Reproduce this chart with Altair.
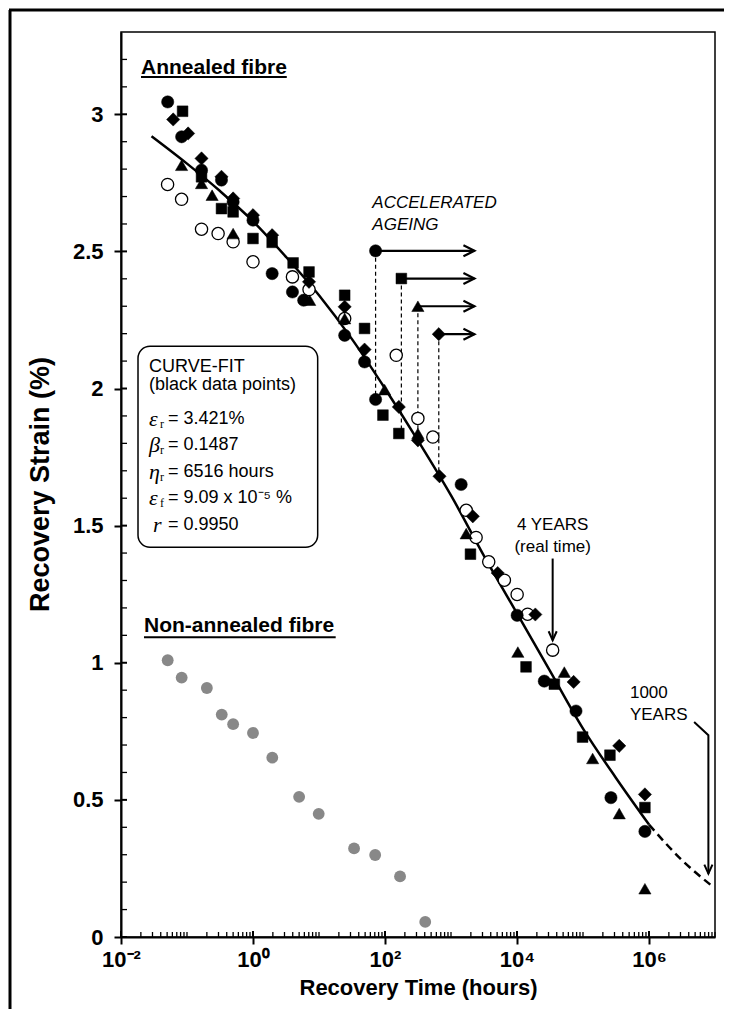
import altair as alt
import pandas as pd

# ---------------- data ----------------
# Non-annealed fibre (grey circles)
gray_t = [0.051, 0.083, 0.2, 0.336, 0.5, 1.0, 1.96, 5.0, 9.9, 34, 71, 169, 407]
gray_v = [1.009, 0.946, 0.908, 0.811, 0.776, 0.744, 0.654, 0.511, 0.449, 0.323, 0.299, 0.221, 0.055]

# Annealed fibre - filled circles
circ_t = [0.051, 0.083, 0.166, 0.333, 0.5, 1.0, 1.95, 3.96, 5.86, 24.5, 49, 72, 1425, 10050, 25900, 78300, 265000, 867000]
circ_v = [3.045, 2.918, 2.796, 2.760, 2.68, 2.614, 2.419, 2.352, 2.322, 2.194, 2.097, 1.960, 1.650, 1.173, 0.933, 0.824, 0.508, 0.385]
# squares
sq_t = [0.0857, 0.166, 0.333, 0.5, 1.0, 1.95, 4.05, 7.06, 24.5, 49, 93, 162, 1972, 13700, 36800, 98600, 256000, 867000]
sq_v = [3.011, 2.772, 2.656, 2.644, 2.547, 2.533, 2.458, 2.425, 2.340, 2.219, 1.903, 1.836, 1.396, 0.985, 0.922, 0.729, 0.663, 0.472]
# triangles
tri_t = [0.0828, 0.166, 0.24, 0.5, 7.23, 24.5, 98.6, 315, 1700, 10300, 52100, 140000, 354000, 867000]
tri_v = [2.814, 2.748, 2.705, 2.565, 2.322, 2.255, 1.996, 1.836, 1.471, 1.039, 0.966, 0.651, 0.450, 0.176]
# diamonds
dia_t = [0.0618, 0.104, 0.166, 0.333, 0.5, 1.0, 1.95, 7.06, 24.5, 49, 162, 315, 670, 2140, 5100, 18960, 72100, 354000, 867000]
dia_v = [2.981, 2.93, 2.839, 2.772, 2.693, 2.632, 2.559, 2.389, 2.298, 2.142, 1.933, 1.811, 1.680, 1.534, 1.327, 1.176, 0.930, 0.697, 0.520]
# open circles
open_t = [0.0508, 0.0828, 0.166, 0.296, 0.5, 1.0, 3.96, 7.06, 24.5, 148, 315, 531, 1700, 2400, 3730, 6440, 10050, 14500, 34700]
open_v = [2.744, 2.690, 2.581, 2.565, 2.535, 2.462, 2.407, 2.361, 2.255, 2.121, 1.891, 1.823, 1.556, 1.457, 1.368, 1.301, 1.249, 1.177, 1.046]

# accelerated ageing points (circle, square, triangle, diamond)
acc_t = [72, 177, 315, 653]
acc_v = [2.502, 2.401, 2.300, 2.198]
acc_drop_v = [1.960, 1.836, 1.836, 1.680]
acc_arrow_end_t = [2265, 2265, 2265, 2265]

# fitted curve
curve_t = [0.029, 0.1, 0.316, 1, 3.16, 10, 31.6, 100, 316, 1000, 3160, 10000, 31600, 100000, 316000, 1000000]
curve_v = [2.92, 2.82, 2.72, 2.61, 2.48, 2.34, 2.18, 2.00, 1.81, 1.61, 1.39, 1.18, 0.97, 0.76, 0.58, 0.41]
extrap_t = [1000000, 3160000, 8600000]
extrap_v = [0.41, 0.28, 0.19]

# annotations
four_years_t = 34700
four_years_arrow_v = [1.380, 1.082]
millennium_path_t = [4.83e6, 7.94e6, 7.94e6]
millennium_path_v = [0.784, 0.736, 0.231]

fit_sym = ["ε", "β", "η", "ε", "r"]
fit_sub = ["r", "r", "r", "f", ""]
fit_rest = ["= 3.421%", "= 0.1487", "= 6516 hours", "= 9.09 x 10⁻⁵ %", "= 0.9950"]
fit_v = [1.888, 1.795, 1.697, 1.600, 1.501]

x_major = [0.01, 1, 100, 10000, 1000000]
y_major = [0, 0.5, 1, 1.5, 2, 2.5, 3]

# ---------------- layout ----------------
W, H = 594, 905
xs = alt.Scale(type="log", domain=[0.01, 1e7], nice=False)
ys = alt.Scale(domain=[0, 3.3], nice=False, zero=False)
NARROW = "Liberation Sans Narrow, Arial Narrow, Liberation Sans, sans-serif"
SANS = "Liberation Sans, Arial, sans-serif"
SERIF = "Liberation Serif, Times New Roman, serif"

x_label_expr = ("datum.value < 0.1 ? '10⁻²' : datum.value < 10 ? '10⁰' : "
                "datum.value < 1000 ? '10²' : datum.value < 100000 ? '10⁴' : '10⁶'")
X_AXIS = alt.Axis(values=x_major, labelExpr=x_label_expr, grid=False,
                  tickSize=7, tickWidth=2, tickColor="black",
                  domainColor="black", domainWidth=2,
                  labelFont=NARROW, labelFontSize=22, labelFontWeight="bold",
                  labelColor="black", labelPadding=5, labelFlush=False,
                  titleFont=SANS, titleFontSize=22, titleFontWeight="bold",
                  titleColor="black", titleX=297, titleY=50,
                  titleAlign="center", titleBaseline="middle")
Y_AXIS = alt.Axis(values=y_major, format=".2~f", grid=False,
                  tickSize=7, tickWidth=2, tickColor="black",
                  domainColor="black", domainWidth=2,
                  labelFont=NARROW, labelFontSize=22, labelFontWeight="bold",
                  labelColor="black", labelPadding=11,
                  titleFont=SANS, titleFontSize=27, titleFontWeight="bold",
                  titleColor="black", titleX=-81, titleY=452, titleAngle=270,
                  titleAlign="center", titleBaseline="middle")
X_TITLE = "Recovery Time (hours)"
Y_TITLE = "Recovery Strain (%)"


def xe(f="t"):
    return alt.X(f"{f}:Q", scale=xs, axis=X_AXIS, title=X_TITLE)


def ye(f="v"):
    return alt.Y(f"{f}:Q", scale=ys, axis=Y_AXIS, title=Y_TITLE)


def pts(t, v, shape, size, fill="black", stroke="black", sw=0.5):
    df = pd.DataFrame({"t": t, "v": v})
    return alt.Chart(df).mark_point(shape=shape, size=size, filled=True, fill=fill,
                                    stroke=stroke, strokeWidth=sw, opacity=1).encode(x=xe(), y=ye())


one = pd.DataFrame({"a": [0]})

# outer figure frame (decoration)
frame_left = alt.Chart(one).mark_rule(color="black", strokeWidth=3).encode(
    x=alt.value(-111), y=alt.value(-22), y2=alt.value(1000))
frame_top = alt.Chart(one).mark_rule(color="black", strokeWidth=3).encode(
    x=alt.value(-112), x2=alt.value(700), y=alt.value(-22))

gray = pts(gray_t, gray_v, "circle", 140, fill="#888888", stroke="#888888", sw=0)

# inner tick marks
x_minor = [m * 10.0 ** k for k in range(-2, 7) for m in range(2, 10)] + [0.1, 10, 1000, 100000, 1e7]
y_minor = [round(i * 0.1, 1) for i in range(1, 33) if i % 5 != 0]
xmin_ticks = alt.Chart(pd.DataFrame({"t": x_minor})).mark_rule(color="black", strokeWidth=1.3).encode(
    x=xe(), y=alt.value(H), y2=alt.value(H - 5))
xmaj_ticks = alt.Chart(pd.DataFrame({"t": x_major})).mark_rule(color="black", strokeWidth=2).encode(
    x=xe(), y=alt.value(H), y2=alt.value(H - 6))
ymin_ticks = alt.Chart(pd.DataFrame({"v": y_minor})).mark_rule(color="black", strokeWidth=1.3).encode(
    y=ye(), x=alt.value(0), x2=alt.value(6))
ymaj_ticks = alt.Chart(pd.DataFrame({"v": y_major})).mark_rule(color="black", strokeWidth=2).encode(
    y=ye(), x=alt.value(0), x2=alt.value(6))

# curve-fit box
box = alt.Chart(pd.DataFrame({"t": [0.0181], "t1": [9.55], "v": [2.154], "v1": [1.421]})).mark_rect(
    fill="white", stroke="black", strokeWidth=1.5, cornerRadius=12).encode(
    x=xe(), x2="t1:Q", y=ye(), y2="v1:Q")

# fitted curve
curve = alt.Chart(pd.DataFrame({"t": curve_t, "v": curve_v})).mark_line(
    color="black", strokeWidth=2.5, interpolate="monotone").encode(x=xe(), y=ye())
extrap = alt.Chart(pd.DataFrame({"t": extrap_t, "v": extrap_v})).mark_line(
    color="black", strokeWidth=2.5, strokeDash=[8, 5], interpolate="monotone").encode(x=xe(), y=ye())

# accelerated ageing guides
acc_df = pd.DataFrame({"t": acc_t, "v": acc_v, "vb": acc_drop_v, "te": acc_arrow_end_t})
drops = alt.Chart(acc_df).mark_rule(color="black", strokeWidth=1.2, strokeDash=[4, 3]).encode(
    x=xe(), y=ye(), y2="vb:Q")
arrows = alt.Chart(acc_df).mark_rule(color="black", strokeWidth=2.2).encode(
    x=xe(), x2="te:Q", y=ye())
arrow_heads = alt.Chart(acc_df.assign(t=acc_df["te"])).mark_point(
    shape="M-1,-0.5L0,0L-1,0.5", size=484, filled=False, stroke="black", strokeWidth=2.2, opacity=1).encode(
    x=xe(), y=ye())

# 4 years arrow
fy_df = pd.DataFrame({"t": [four_years_t], "v": [four_years_arrow_v[0]], "v2": [four_years_arrow_v[1]]})
fy_line = alt.Chart(fy_df).mark_rule(color="black", strokeWidth=2).encode(x=xe(), y=ye(), y2="v2:Q")
fy_head = alt.Chart(pd.DataFrame({"t": [four_years_t], "v": [four_years_arrow_v[1]]})).mark_point(
    shape="M-0.45,-1L0,0L0.45,-1", size=324, filled=False, stroke="black", strokeWidth=2, opacity=1).encode(
    x=xe(), y=ye())

# 1000 years leader
my_df = pd.DataFrame({"t": millennium_path_t, "v": millennium_path_v, "i": [0, 1, 2]})
my_line = alt.Chart(my_df).mark_line(color="black", strokeWidth=2).encode(x=xe(), y=ye(), order="i:Q")
my_head = alt.Chart(my_df.iloc[[2]]).mark_point(
    shape="M-0.45,-1L0,0L0.45,-1", size=324, filled=False, stroke="black", strokeWidth=2, opacity=1).encode(
    x=xe(), y=ye())

# data points
S_CIRC, S_SQ, S_TRI, S_DIA = 150, 115, 150, 175
layer_pts = [
    pts(open_t, open_v, "circle", 150, fill="white", stroke="black", sw=1.3),
    pts(tri_t, tri_v, "triangle-up", S_TRI),
    pts(sq_t, sq_v, "square", S_SQ),
    pts(dia_t, dia_v, "diamond", S_DIA),
    pts(circ_t, circ_v, "circle", S_CIRC),
    pts([acc_t[0]], [acc_v[0]], "circle", S_CIRC),
    pts([acc_t[1]], [acc_v[1]], "square", S_SQ),
    pts([acc_t[2]], [acc_v[2]], "triangle-up", S_TRI),
    pts([acc_t[3]], [acc_v[3]], "diamond", S_DIA),
]


def label(texts, t, v, size, weight="normal", style="normal", font=SANS, align="left", dx=0, dy=0):
    df = pd.DataFrame({"t": t, "v": v, "s": texts})
    return alt.Chart(df).mark_text(align=align, baseline="middle", fontSize=size, fontWeight=weight,
                                   fontStyle=style, font=font, color="black", dx=dx, dy=dy).encode(
        x=xe(), y=ye(), text="s:N")


texts = [
    label(["Annealed fibre"], [0.0201], [3.168], 21, weight="bold", font=NARROW),
    label(["Non-annealed fibre"], [0.0223], [1.133], 21, weight="bold", font=NARROW),
    label(["ACCELERATED", "AGEING"], [64.3, 64.3], [2.676, 2.596], 17, style="italic"),
    label(["4 YEARS", "(real time)"], [34700, 34700], [1.501, 1.421], 17, align="center"),
    label(["1000", "YEARS"], [514000, 514000], [0.888, 0.811], 17),
    label(["CURVE-FIT", "(black data points)"], [0.0266, 0.0266], [2.078, 2.012], 18),
    label(fit_sym[:4], [0.0266] * 4, fit_v[:4], 22, style="italic", font=SERIF),
    label(fit_sub[:4], [0.0266] * 4, fit_v[:4], 12, font=SERIF, dx=11, dy=5),
    label(fit_rest[:4], [0.0266] * 4, fit_v[:4], 18, dx=19),
    label([fit_sym[4]], [0.0266], [fit_v[4]], 22, style="italic", font=SERIF, dx=4),
    label([fit_rest[4]], [0.0266], [fit_v[4]], 18, dx=19),
]

# underlines for the two group labels
ul = alt.Chart(pd.DataFrame({"t": [0.0201, 0.0223], "t2": [3.25, 17.9], "v": [3.136, 1.093]})).mark_rule(
    color="black", strokeWidth=2).encode(x=xe(), x2="t2:Q", y=ye())

chart = alt.layer(
    frame_left, frame_top, box, gray, xmin_ticks, xmaj_ticks, ymin_ticks, ymaj_ticks,
    curve, extrap, drops, arrows, arrow_heads, fy_line, fy_head, my_line, my_head,
    *layer_pts, *texts, ul,
).properties(
    width=W, height=H,
    background="white",
    autosize=alt.AutoSizeParams(type="none"),
    padding={"left": 113, "top": 24, "right": 9, "bottom": 72},
).configure_view(stroke="black", strokeWidth=1.5)

chart.save("out.html", embed_options={"renderer": "svg", "actions": False})
